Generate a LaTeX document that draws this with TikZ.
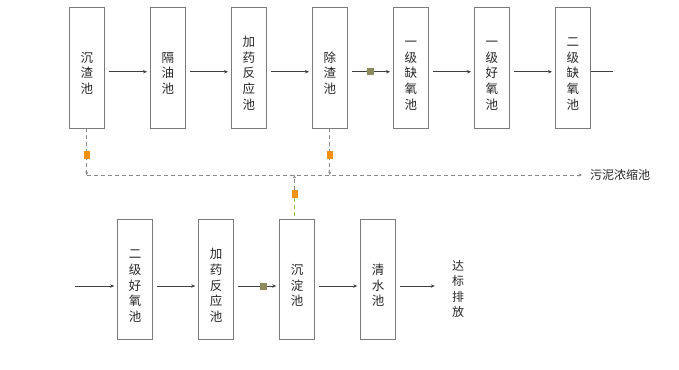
\documentclass[tikz,border=0pt]{standalone}
\usepackage{fontspec}
\newfontfamily\cjk{Noto Sans CJK SC}
\usetikzlibrary{arrows.meta,positioning,calc}
\definecolor{boxgray}{HTML}{7A7A7A}
\definecolor{linegray}{HTML}{3F3F3F}
\definecolor{dashgray}{HTML}{8A8A8A}
\definecolor{txtgray}{HTML}{262626}
\definecolor{valveolive}{HTML}{8C8A5C}
\definecolor{pumporange}{HTML}{F2900F}
\definecolor{pipegreen}{HTML}{8DC43C}

\begin{document}
\begin{tikzpicture}[
  x=1pt,y=-1pt,
  node distance=45.5pt,
  tank/.style={draw=boxgray,line width=0.8pt,outer sep=0pt,align=center,inner sep=0pt,text width=35.5pt,minimum height=120.5pt,text=txtgray,font=\cjk\fontsize{12.5}{15.8}\selectfont,text height=21pt},
  lowtank/.style={tank,minimum height=120pt,text height=23pt},
  lbl/.style={inner sep=0pt,align=center,text=txtgray,font=\cjk\fontsize{12}{15.2}\selectfont},
  arr/.style={draw=linegray,line width=0.7pt,-{Stealth[length=4pt,width=3.4pt]},shorten <=4pt,shorten >=3pt},
  pipe/.style={draw=linegray,line width=0.7pt},
  sludge/.style={draw=dashgray,line width=0.7pt,dash pattern=on 4pt off 3pt,-{Stealth[length=3.5pt,width=3pt]}},
  valve/.style={fill=valveolive,inner sep=0pt,minimum size=7pt},
  pump/.style={fill=pumporange,inner sep=0pt,minimum width=6pt,minimum height=8pt}
]
\useasboundingbox (0,0) rectangle (679,369);
% upper line
\node[tank] (s1) at (86.75,67.75) {沉\\渣\\池};
\node[tank,right=of s1] (s2) {隔\\油\\池};
\node[tank,right=of s2] (s3) {加\\药\\反\\应\\池};
\node[tank,right=of s3] (s4) {除\\渣\\池};
\node[tank,right=of s4] (s5) {一\\级\\缺\\氧\\池};
\node[tank,right=of s5] (s6) {一\\级\\好\\氧\\池};
\node[tank,right=of s6] (s7) {二\\级\\缺\\氧\\池};
\coordinate (topout) at ($(s7.east)+(22,4)$);
\draw[arr] ([yshift=-4pt]s1.east) -- ([yshift=-4pt]s2.west);
\draw[arr] ([yshift=-4pt]s2.east) -- ([yshift=-4pt]s3.west);
\draw[arr] ([yshift=-4pt]s3.east) -- ([yshift=-4pt]s4.west);
\draw[arr] ([yshift=-4pt]s4.east) -- node[valve] (v1) {} ([yshift=-4pt]s5.west);
\draw[arr] ([yshift=-4pt]s5.east) -- ([yshift=-4pt]s6.west);
\draw[arr] ([yshift=-4pt]s6.east) -- ([yshift=-4pt]s7.west);
\draw[pipe] ([yshift=-4pt]s7.east) -- (topout);
% lower line
\node[lowtank] (c1) at (135,279) {二\\级\\好\\氧\\池};
\node[lowtank,right=of c1] (c2) {加\\药\\反\\应\\池};
\node[lowtank,right=of c2] (c3) {沉\\淀\\池};
\node[lowtank,right=of c3] (c4) {清\\水\\池};
\node[lbl,text width=12pt] (out) at (458,289) {达\\标\\排\\放};
\coordinate (lowin) at ($(c1.west)+(-42,7)$);
\draw[arr,shorten <=0pt] (lowin) -- ([yshift=-7pt]c1.west);
\draw[arr] ([yshift=-7pt]c1.east) -- ([yshift=-7pt]c2.west);
\draw[arr] ([yshift=-7pt]c2.east) -- node[valve,pos=0.65] (v2) {} ([yshift=-7pt]c3.west);
\draw[arr] ([yshift=-7pt]c3.east) -- ([yshift=-7pt]c4.west);
\draw[arr,shorten >=17pt] ([yshift=-7pt]c4.east) -- ([yshift=-7pt]c4.east -| out.west);
% sludge line
\node[lbl,anchor=west] (sl) at (590,175) {污泥浓缩池};
\draw[sludge] (s1.south) -- node[pump,pos=0.57] (p1) {} (s1.south |- sl.west) coordinate (j1);
\draw[sludge] (s4.south) -- node[pump,pos=0.57] (p2) {} (s4.south |- sl.west);
\draw[sludge,shorten >=8pt] (j1) -- (sl.west);
\node[pump] (p3) at ($(c3.north)+(-2.5,-25)$) {};
\draw[draw=pipegreen,line width=0.7pt,dash pattern=on 4pt off 3pt] (p3.south) -- (p3.south |- c3.north);
\draw[sludge] (p3.north) -- (p3.north |- sl.west);
\end{tikzpicture}
\end{document}
